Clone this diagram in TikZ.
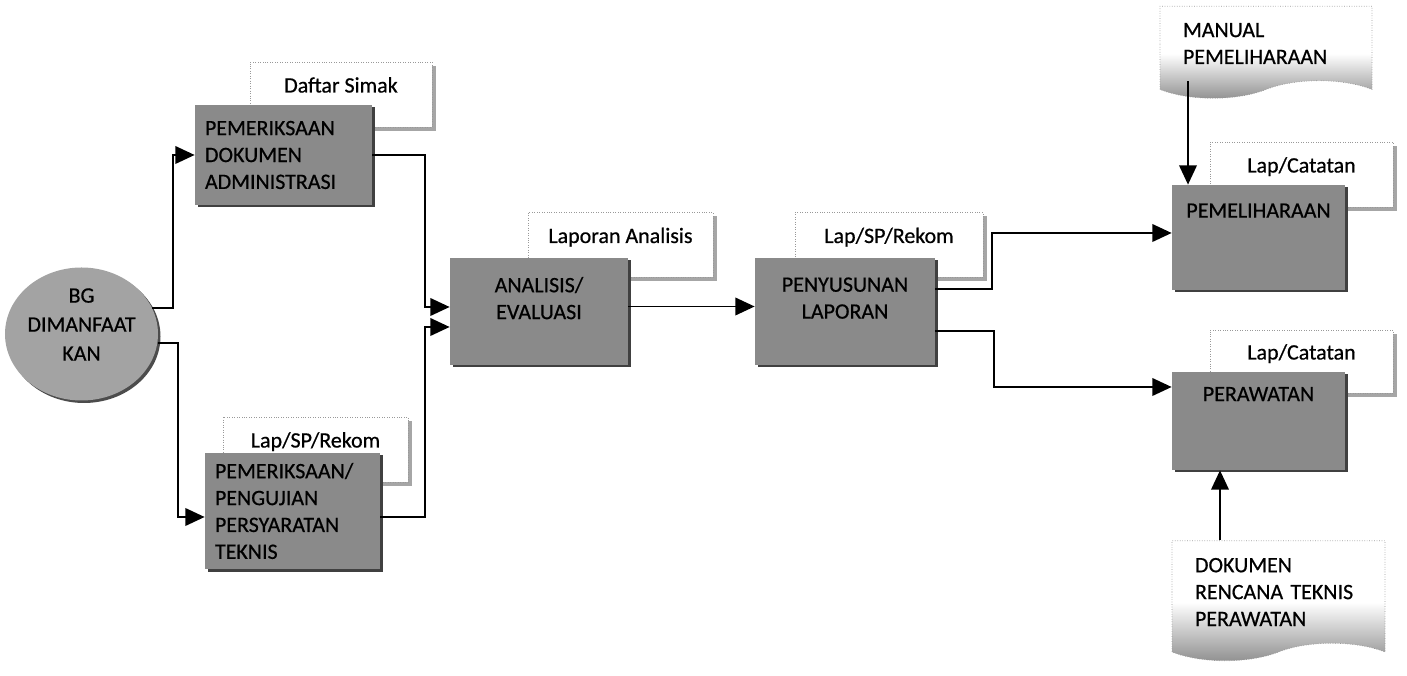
\documentclass[tikz,border=0pt]{standalone}
\usepackage{fontspec}
\setmainfont{Carlito}[FakeBold=0.6]
\usepackage{tikz}
\usetikzlibrary{arrows.meta}
\usetikzlibrary{positioning}
\usetikzlibrary{shapes.geometric}
\usetikzlibrary{shapes.symbols}
\usetikzlibrary{shadows}
\usetikzlibrary{backgrounds}
\newcommand{\boxfont}{\fontsize{12.5}{15.3}\selectfont}
\tikzstyle{every node}+=[inner sep=0pt]
\tikzstyle{bubble} = [ellipse, fill=black!36, font=\fontsize{12.5}{16.5}\selectfont, align=center, minimum width=3.06cm, minimum height=2.66cm, drop shadow={shadow xshift=0.05cm, shadow yshift=-0.05cm, fill=black!70, opacity=1}]
\tikzstyle{block} = [rectangle, fill=black!46, font=\boxfont, inner sep=0.2cm, drop shadow={shadow xshift=0.05cm, shadow yshift=-0.05cm, fill=black!75, opacity=1}]
\tikzstyle{tag} = [rectangle, draw=black!40, densely dotted, fill=white, font=\boxfont, text height=0.32cm, text depth=0.4cm, minimum width=3.66cm, minimum height=1.3cm, drop shadow={shadow xshift=0.08cm, shadow yshift=-0.08cm, fill=black!35, opacity=1}]
\tikzstyle{doc} = [tape, tape bend top=none, tape bend bottom=in and out, tape bend height=0.35cm, draw=black!40, densely dotted, top color=white, bottom color=black!45, middle color=white, font=\boxfont, align=left, inner sep=0.2cm]
\tikzstyle{line} = [draw, line width=1.1pt, -{Triangle[length=11pt,width=10pt]}]

\begin{document}
\begin{tikzpicture}[node distance = 2cm, auto]
            \useasboundingbox (-1.63,6.68) rectangle (26.51,-6.84);
            % Place nodes
            \node [bubble] (bg) {BG\\DIMANFAAT\\KAN\\[-0.2cm]~};
            \node [block, right of=bg, node distance=4.04cm, yshift=3.58cm, minimum width=3.54cm, minimum height=2cm, text width=3.14cm, align=left] (adm) {PEMERIKSAAN\\DOKUMEN\\ADMINISTRASI};
            \node [block, right of=bg, node distance=4.22cm, yshift=-3.54cm, minimum width=3.5cm, minimum height=2.24cm, text width=3.1cm, align=left] (tek) {PEMERIKSAAN/\\PENGUJIAN\\PERSYARATAN\\TEKNIS};
            \node [block, right of=bg, node distance=9.15cm, yshift=0.45cm, minimum width=3.56cm, minimum height=2.14cm, align=center] (ana) {ANALISIS/\\EVALUASI\\~};
            \node [block, right of=ana, node distance=6.12cm, minimum width=3.6cm, minimum height=2.14cm, align=center] (lap) {PENYUSUNAN\\LAPORAN\\~};
            \node [block, right of=lap, node distance=8.27cm, yshift=1.48cm, minimum width=3.46cm, minimum height=2.1cm, align=center] (pel) {PEMELIHARAAN\\~\\~};
            \node [block, right of=lap, node distance=8.27cm, yshift=-2.19cm, minimum width=3.46cm, minimum height=1.96cm, align=center] (raw) {PERAWATAN\\~\\~};
            % Place documents
            \begin{scope}[on background layer]
            \node [tag, right of=adm, node distance=1.15cm, yshift=1.21cm, minimum width=3.64cm] (t-adm) {Daftar Simak};
            \node [tag, right of=tek, node distance=0.46cm, yshift=1.23cm, minimum width=3.7cm] (t-tek) {Lap/SP/Rekom};
            \node [tag, right of=ana, node distance=1.63cm, yshift=1.33cm, minimum width=3.7cm] (t-ana) {Laporan Analisis};
            \node [tag, right of=lap, node distance=0.88cm, yshift=1.33cm, minimum width=3.76cm] (t-lap) {Lap/SP/Rekom};
            \node [tag, right of=pel, node distance=0.86cm, yshift=1.26cm] (t-pel) {Lap/Catatan};
            \node [tag, right of=raw, node distance=0.86cm, yshift=1.19cm, minimum height=1.26cm] (t-raw) {Lap/Catatan};
            \end{scope}
            \node [doc, right of=pel, node distance=0.15cm, yshift=3.88cm, minimum width=4.24cm, minimum height=1.84cm, text width=3.32cm] (man) {MANUAL\\PEMELIHARAAN};
            \node [doc, right of=raw, node distance=0.4cm, yshift=-3.42cm, minimum width=4.26cm, minimum height=2.4cm, text width=3.34cm] (dok) {DOKUMEN\\RENCANA TEKNIS\\PERAWATAN};
            % Draw edges
            \path [line] (bg.20) -- ++(0.42,0) |- (adm);
            \path [line] (bg.-7) -- ++(0.4,0) |- ([yshift=-0.12cm]tek.west);
            \path [line] (adm.east) -- ++(1.06,0) |- ([yshift=0.09cm]ana.west);
            \path [line] ([yshift=-0.12cm]tek.east) -- ++(0.9,0) |- ([yshift=-0.31cm]ana.west);
            \path [line] ([yshift=0.1cm]ana.east) -- ([yshift=0.1cm]lap.west);
            \path [line] ([yshift=0.45cm]lap.east) -- ++(1.14,0) |- ([yshift=0.09cm]pel.west);
            \path [line] ([yshift=-0.39cm]lap.east) -- ++(1.18,0) |- ([yshift=0.68cm]raw.west);
            \path [line] ([xshift=-1.41cm]pel.north |- man.south) -- ([xshift=-1.41cm]pel.north);
            \path [line] ([xshift=-0.77cm]raw.south |- dok.north) -- ([xshift=-0.77cm]raw.south);
\end{tikzpicture}
\end{document}
